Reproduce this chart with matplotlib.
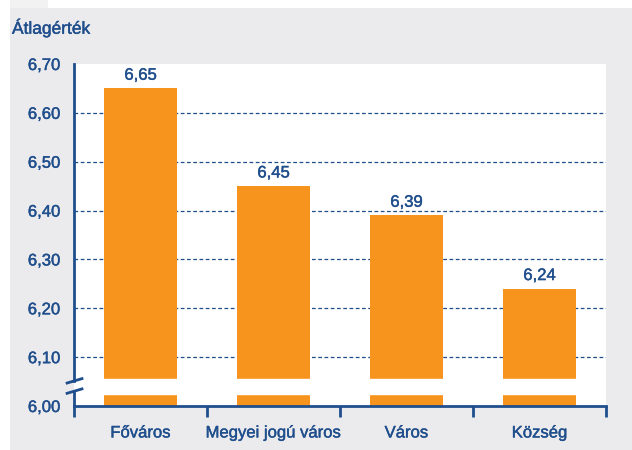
import matplotlib
matplotlib.use("Agg")
import matplotlib.pyplot as plt
import matplotlib.patheffects as pe
from matplotlib import font_manager
from matplotlib.patches import Rectangle

# data
categories = ["Főváros", "Megyei jogú város", "Város", "Község"]
values = [6.65, 6.45, 6.39, 6.24]
value_labels = ["6,65", "6,45", "6,39", "6,24"]
yticks = [6.0, 6.1, 6.2, 6.3, 6.4, 6.5, 6.6, 6.7]
ytick_labels = ["6,00", "6,10", "6,20", "6,30", "6,40", "6,50", "6,60", "6,70"]
grid_levels = [6.1, 6.2, 6.3, 6.4, 6.5, 6.6]

names = {f.name for f in font_manager.fontManager.ttflist}
font = "Liberation Sans Narrow" if "Liberation Sans Narrow" in names else "Liberation Sans"
plt.rcParams["font.family"] = [font, "DejaVu Sans"]

blue = "#1f4e8c"
orange = "#f7941d"
gray = "#ebebed"
# slightly heavier text, like a semibold face
heavy = [pe.withStroke(linewidth=0.3, foreground=blue)]

fig = plt.figure(figsize=(6.32, 4.5), dpi=100)
fig.patch.set_facecolor("white")
fig.patches.append(Rectangle((10 / 632, 0), 1, 1 - 8 / 450, transform=fig.transFigure,
                             facecolor=gray, edgecolor="none", zorder=-2))
fig.patches.append(Rectangle((10 / 632, 1 - 8 / 450), 38 / 632, 8 / 450, transform=fig.transFigure,
                             facecolor="#f2f2f3", edgecolor="none", zorder=-2))

ax = fig.add_axes([74 / 632, 1 - 406 / 450, 532 / 632, 342 / 450])
ax.set_facecolor("white")

x = list(range(len(categories)))
ax.bar(x, [v - 6.0 for v in values], bottom=6.0, width=0.556, color=orange, zorder=2)
for xi, v, lab in zip(x, values, value_labels):
    ax.annotate(lab, (xi, v), xytext=(0, 9.5), textcoords="offset points", ha="center",
                va="center", color=blue, fontsize=12, path_effects=heavy)

# break band
ax.axhspan(6.025, 6.055, color="white", zorder=3)

for g in grid_levels:
    ax.axhline(g, color=blue, lw=0.9, ls=(0, (3, 2)), zorder=1)

ax.set_xlim(-0.5, 3.5)
ax.set_ylim(6.0, 6.7)
ax.set_yticks(yticks)
ax.set_yticklabels(ytick_labels)
ax.tick_params(axis="y", length=0, pad=10, labelcolor=blue, labelsize=12)
ax.set_xticks(x)
ax.set_xticklabels(categories)
ax.tick_params(axis="x", which="major", length=0, pad=14, labelcolor=blue, labelsize=12)
ax.set_xticks([-0.5, 0.5, 1.5, 2.5, 3.5], minor=True)
ax.tick_params(axis="x", which="minor", length=8, width=2, color=blue, direction="out")
for lab in ax.get_xticklabels() + ax.get_yticklabels():
    lab.set_path_effects(heavy)

for s in ["top", "right", "left"]:
    ax.spines[s].set_visible(False)
ax.spines["bottom"].set_color(blue)
ax.spines["bottom"].set_linewidth(2)
ax.spines["bottom"].set_zorder(5)

# broken y axis
yt = ax.get_yaxis_transform()
ax.plot([0, 0], [6.052, 6.7], color=blue, lw=2, transform=yt, clip_on=False, zorder=5)
ax.plot([0, 0], [6.0, 6.03], color=blue, lw=2, transform=yt, clip_on=False, zorder=5)
ax.plot([-0.013, 0.015], [6.047, 6.056], color=blue, lw=2, transform=yt, clip_on=False, zorder=5)
ax.plot([-0.013, 0.015], [6.026, 6.035], color=blue, lw=2, transform=yt, clip_on=False, zorder=5)

fig.text(12 / 632, 1 - 28 / 450, "Átlagérték", color=blue, fontsize=12.5, ha="left", va="center",
         path_effects=heavy)

fig.savefig("out.png", dpi=100)
